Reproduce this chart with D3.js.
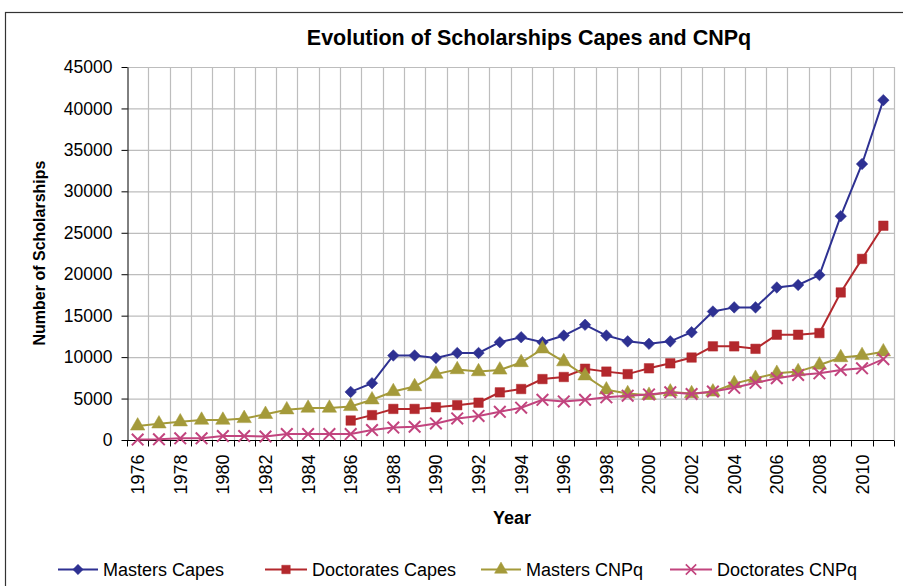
<!DOCTYPE html>
<html>
<head>
<meta charset="utf-8">
<script src="https://cdn.jsdelivr.net/npm/d3@7"></script>
<style>
  body { margin: 0; background: #fff; }
  svg { font-family: "Liberation Sans", Arial, sans-serif; }
</style>
</head>
<body>
<div id="chart"></div>
<script>
// years 1976..2011
const years = d3.range(1976, 2012);
const yTicks = [0, 5000, 10000, 15000, 20000, 25000, 30000, 35000, 40000, 45000];

// values per year, null = no data
const mastersCapes = [null, null, null, null, null, null, null, null, null, null,
  5800, 6850, 10200, 10200, 9900, 10500, 10500, 11800, 12400, 11800,
  12600, 13900, 12600, 11900, 11600, 11900, 13000, 15500, 16000, 16000,
  18400, 18700, 19900, 27000, 33300, 41000];
const doctoratesCapes = [null, null, null, null, null, null, null, null, null, null,
  2350, 3000, 3750, 3750, 3950, 4200, 4500, 5750, 6150, 7350,
  7600, 8600, 8250, 7950, 8650, 9250, 9950, 11300, 11300, 11000,
  12700, 12700, 12900, 17800, 21850, 25850];
const mastersCNPq = [1700, 1950, 2200, 2400, 2400, 2600, 3100, 3650, 3850, 3850,
  4050, 4850, 5850, 6450, 7950, 8500, 8250, 8450, 9350, 11000,
  9450, 7750, 6050, 5600, 5400, 5800, 5600, 5800, 6800, 7450,
  8050, 8250, 9050, 9950, 10200, 10650];
const doctoratesCNPq = [50, 80, 200, 200, 480, 480, 420, 720, 720, 720,
  720, 1200, 1500, 1600, 2000, 2600, 2900, 3400, 3900, 4850,
  4650, 4850, 5150, 5350, 5500, 5750, 5550, 5850, 6300, 6900,
  7450, 7850, 8050, 8450, 8650, 9750];

const seriesNames = ["Masters Capes", "Doctorates Capes", "Masters CNPq", "Doctorates CNPq"];
const seriesValues = [mastersCapes, doctoratesCapes, mastersCNPq, doctoratesCNPq];
const colors = ["#2e3192", "#b3282d", "#a49a3a", "#c2447e"];
const symbols = [d3.symbolDiamond2, d3.symbolSquare, d3.symbolTriangle, d3.symbolX];

const width = 903, height = 586;
const margin = {top: 67, right: 9, bottom: 146, left: 127};

const svg = d3.select("#chart").append("svg")
  .attr("width", width)
  .attr("height", height);

// outer frame
svg.append("rect")
  .attr("x", 5.5).attr("y", 12.5)
  .attr("width", 920).attr("height", 600)
  .attr("fill", "none")
  .attr("stroke", "#333")
  .attr("stroke-width", 1.2);

const x = d3.scaleBand()
  .domain(years)
  .range([margin.left, width - margin.right]);

const y = d3.scaleLinear()
  .domain([0, 45000])
  .range([height - margin.bottom, margin.top]);

// grid
const grid = svg.append("g");
grid.selectAll(".hg")
  .data(yTicks.slice(1))
  .enter().append("line")
    .attr("x1", margin.left).attr("x2", width - margin.right)
    .attr("y1", d => y(d) + 0.5).attr("y2", d => y(d) + 0.5)
    .attr("stroke", "#bdbdbd").attr("stroke-width", 1.2);
grid.selectAll(".vg")
  .data(years.slice(1).concat([null]))
  .enter().append("line")
    .attr("x1", (d, i) => Math.round(margin.left + (i + 1) * x.step()) + 0.5)
    .attr("x2", (d, i) => Math.round(margin.left + (i + 1) * x.step()) + 0.5)
    .attr("y1", margin.top).attr("y2", height - margin.bottom)
    .attr("stroke", "#bdbdbd").attr("stroke-width", 1.2);

// y axis
const yAxis = svg.append("g")
  .attr("transform", `translate(${margin.left + 0.5},0)`)
  .call(d3.axisLeft(y).tickValues(yTicks).tickFormat(d3.format("d"))
    .tickSize(6).tickPadding(9).tickSizeOuter(0));
yAxis.select(".domain").attr("stroke", "#000");
yAxis.selectAll("text").style("font-size", "17.5px").attr("fill", "#000");

// x axis: ticks at band boundaries, labels every other year
const xAxisG = svg.append("g")
  .attr("transform", `translate(0,${height - margin.bottom + 0.5})`);
xAxisG.append("line")
  .attr("x1", margin.left).attr("x2", width - margin.right)
  .attr("stroke", "#000");
xAxisG.selectAll(".tk")
  .data(d3.range(years.length + 1))
  .enter().append("line")
    .attr("x1", i => Math.round(margin.left + i * x.step()) + 0.5)
    .attr("x2", i => Math.round(margin.left + i * x.step()) + 0.5)
    .attr("y1", 0).attr("y2", 6)
    .attr("stroke", "#000");
xAxisG.selectAll(".lb")
  .data(years.filter(d => d % 2 === 0))
  .enter().append("text")
    .attr("transform", d => `translate(${x(d) + x.bandwidth() / 2 + 6.5},14) rotate(-90)`)
    .attr("text-anchor", "end")
    .style("font-size", "18px")
    .text(d => d);

// title and axis titles
svg.append("text")
  .attr("x", 529).attr("y", 45)
  .attr("text-anchor", "middle")
  .style("font-size", "21.5px").style("font-weight", "bold")
  .text("Evolution of Scholarships Capes and CNPq");

svg.append("text")
  .attr("transform", "translate(45,253) rotate(-90)")
  .attr("text-anchor", "middle")
  .style("font-size", "16px").style("font-weight", "bold")
  .text("Number of Scholarships");

svg.append("text")
  .attr("x", 512).attr("y", 524)
  .attr("text-anchor", "middle")
  .style("font-size", "18px").style("font-weight", "bold")
  .text("Year");

// series
const line = d3.line()
  .defined(d => d.v != null)
  .x(d => x(d.year) + x.bandwidth() / 2)
  .y(d => y(d.v));

const symSizes = [85, 90, 90, 90];

seriesValues.forEach((vals, s) => {
  const pts = years.map((yr, i) => ({year: yr, v: vals[i]}));
  const g = svg.append("g");
  g.append("path")
    .datum(pts)
    .attr("d", line)
    .attr("fill", "none")
    .attr("stroke", colors[s])
    .attr("stroke-width", 2);
  g.selectAll("path.m")
    .data(pts.filter(d => d.v != null))
    .enter().append("path")
      .attr("class", "m")
      .attr("transform", d => `translate(${x(d.year) + x.bandwidth() / 2},${y(d.v)})`)
      .attr("d", d3.symbol().type(symbols[s]).size(symSizes[s]))
      .attr("fill", s === 3 ? "none" : colors[s])
      .attr("stroke", colors[s])
      .attr("stroke-width", s === 3 ? 2 : 0.5);
});

// legend
const legendX = [58, 265, 481, 670];
const legendW = [40, 42, 40, 42];
const legendY = 569.5;
seriesNames.forEach((name, s) => {
  const g = svg.append("g");
  g.append("line")
    .attr("x1", legendX[s]).attr("x2", legendX[s] + legendW[s])
    .attr("y1", legendY).attr("y2", legendY)
    .attr("stroke", colors[s]).attr("stroke-width", 2);
  g.append("path")
    .attr("transform", `translate(${legendX[s] + legendW[s] / 2},${legendY})`)
    .attr("d", d3.symbol().type(symbols[s]).size(symSizes[s] * 0.8))
    .attr("fill", s === 3 ? "none" : colors[s])
    .attr("stroke", colors[s])
    .attr("stroke-width", s === 3 ? 1.6 : 0.5);
  g.append("text")
    .attr("x", legendX[s] + legendW[s] + 5)
    .attr("y", legendY + 6.5)
    .style("font-size", "18px")
    .text(name);
});
</script>
</body>
</html>
